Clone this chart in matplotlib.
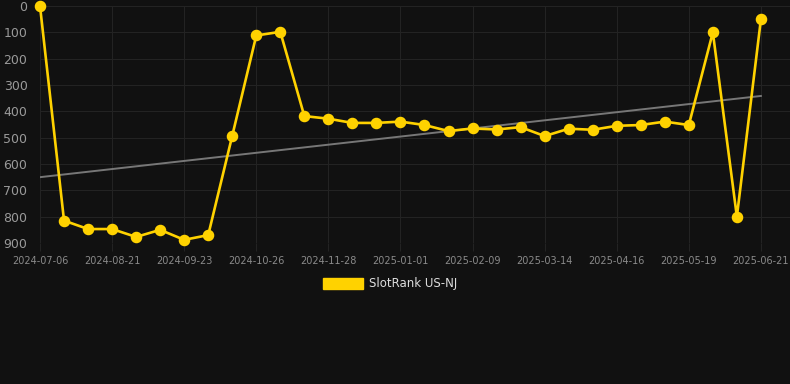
import numpy as np
import matplotlib
matplotlib.use("Agg")
import matplotlib.pyplot as plt
from matplotlib.patches import Patch

ranks = [0, 815, 847, 847, 877, 850, 888, 870, 493, 112, 98, 418, 428, 444, 444,
         439, 452, 475, 465, 469, 460, 494, 466, 470, 455, 452, 439, 452, 100, 800, 51]
tick_labels = ["2024-07-06", "2024-08-21", "2024-09-23", "2024-10-26", "2024-11-28",
               "2025-01-01", "2025-02-09", "2025-03-14", "2025-04-16", "2025-05-19",
               "2025-06-21"]
series_name = "SlotRank US-NJ"

BG = "#111111"
GOLD = "#FFD200"
GRID = "#232323"

x = np.arange(len(ranks))
fig = plt.figure(figsize=(7.9, 3.84), dpi=100, facecolor=BG)
ax = fig.add_axes([40/790, 1-243/384, 1-40/790, (243-6)/384])
ax.set_facecolor(BG)

coef = np.polyfit(x, ranks, 1)
ax.plot(x, np.polyval(coef, x), color="#777777", lw=1.4, zorder=2)
ax.plot(x, ranks, color=GOLD, lw=1.9, marker="o", ms=7.3, mfc=GOLD, mec=GOLD,
        zorder=3, clip_on=False)

ax.set_ylim(900, 0)
ax.set_xlim(0, (790-40)/24.03)
ax.set_yticks(range(0, 901, 100))
ax.set_xticks(x[::3])
ax.set_xticklabels(tick_labels)
ax.tick_params(axis="y", colors="#9a9a9a", labelsize=9, length=0, pad=9)
ax.tick_params(axis="x", colors=GRID, labelcolor="#8a8a8a", labelsize=7,
               length=6, width=0.8, pad=3)
ax.grid(True, color=GRID, lw=0.8)
ax.set_axisbelow(True)
for s in ax.spines.values():
    s.set_visible(False)

leg = fig.legend(handles=[Patch(facecolor=GOLD, edgecolor=GOLD, label=series_name)],
                 loc="center", bbox_to_anchor=(390/790, 1-284/384), frameon=False,
                 fontsize=8.5, handlelength=3.4, handleheight=1.0, handletextpad=0.5)
for t in leg.get_texts():
    t.set_color("#dddddd")

fig.savefig("out.png", dpi=100, facecolor=BG)
